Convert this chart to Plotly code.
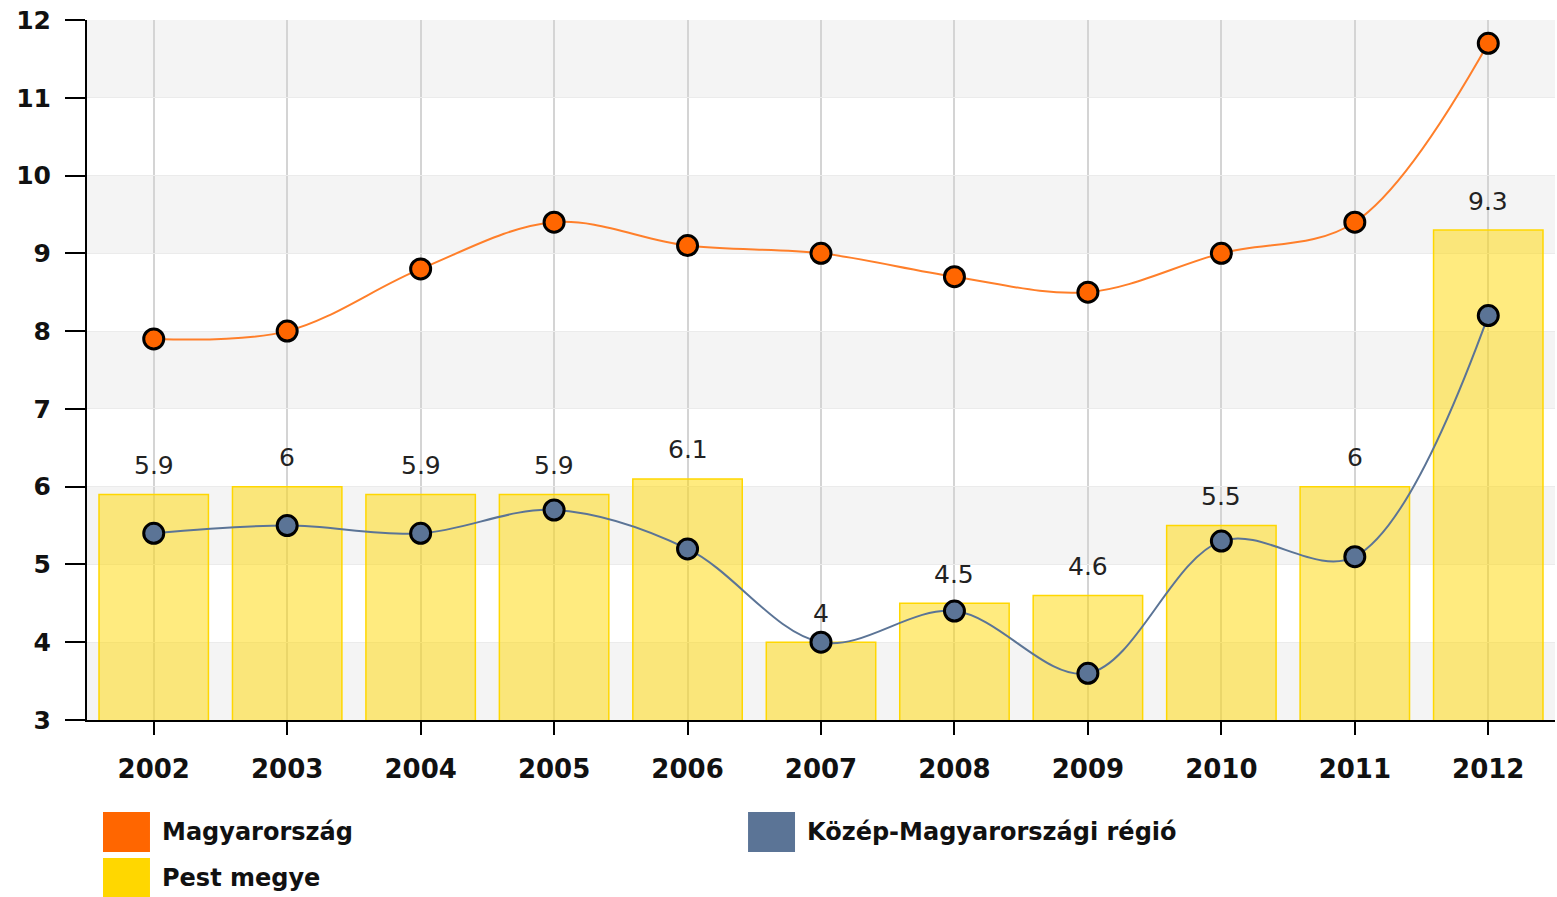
import plotly.graph_objects as go

years = ["2002", "2003", "2004", "2005", "2006", "2007", "2008", "2009", "2010", "2011", "2012"]
magyarorszag = [7.9, 8.0, 8.8, 9.4, 9.1, 9.0, 8.7, 8.5, 9.0, 9.4, 11.7]
kozep = [5.4, 5.5, 5.4, 5.7, 5.2, 4.0, 4.4, 3.6, 5.3, 5.1, 8.2]
pest = [5.9, 6, 5.9, 5.9, 6.1, 4, 4.5, 4.6, 5.5, 6, 9.3]
y_ticks = [3, 4, 5, 6, 7, 8, 9, 10, 11, 12]

FONT = "DejaVu Sans"
ORANGE = "#FF6600"
BLUE = "#5B7496"
YELLOW = "#FFD700"

fig = go.Figure()

fig.add_trace(go.Bar(
    x=years, y=pest, base=0,
    marker=dict(color="rgba(255,215,0,0.5)", line=dict(color=YELLOW, width=1.5)),
    showlegend=False, hoverinfo="skip",
))
fig.add_trace(go.Scatter(
    x=years, y=magyarorszag, mode="lines+markers",
    line=dict(color="#FF7F2A", width=2, shape="spline"),
    marker=dict(size=20, color=ORANGE, line=dict(color="black", width=3)),
    showlegend=False,
))
fig.add_trace(go.Scatter(
    x=years, y=kozep, mode="lines+markers",
    line=dict(color=BLUE, width=2, shape="spline"),
    marker=dict(size=20, color=BLUE, line=dict(color="black", width=3)),
    showlegend=False,
))

# alternating bands
shapes = []
for lo in y_ticks[:-1]:
    if (lo - 3) % 2 == 0:
        shapes.append(dict(type="rect", xref="paper", yref="y", x0=0, x1=1, y0=lo, y1=lo + 1,
                           fillcolor="#F4F4F4", line=dict(width=0), layer="below"))

# custom legend
legend_items = [
    ("Magyarország", ORANGE, 0.0109, -0.1314, -0.1600),
    ("Közép-Magyarországi régió", BLUE, 0.4503, -0.1314, -0.1600),
    ("Pest megye", YELLOW, 0.0109, -0.1971, -0.2257),
]
annotations = []
for name, col, lx, ly, ty in legend_items:
    shapes.append(dict(type="rect", xref="paper", yref="paper", x0=lx, x1=lx + 0.032,
                       y0=ly - 0.0572, y1=ly, fillcolor=col, line=dict(width=0)))
    annotations.append(dict(xref="paper", yref="paper", x=lx + 0.0385, y=ty,
                            text=name, showarrow=False, xanchor="left", yanchor="middle",
                            font=dict(family=FONT, size=24, color="#111111", weight="bold")))

for i, v in enumerate(pest):
    annotations.append(dict(x=i, y=v, xref="x", yref="y", text=f"{v:g}", showarrow=False, yshift=29,
                            xanchor="center", yanchor="middle",
                            font=dict(family=FONT, size=25, color="#222222")))

fig.update_layout(
    width=1557, height=897,
    margin=dict(l=87, r=2, t=20, b=177),
    paper_bgcolor="white", plot_bgcolor="white",
    shapes=shapes, annotations=annotations,
    bargap=0.18,
    xaxis=dict(type="category", range=[-0.5, 10.5], showgrid=True, gridcolor="#D4D4D4", gridwidth=1.5,
               showline=True, linecolor="black", linewidth=2, automargin=False,
               ticks="outside", ticklen=13, tickcolor="black", tickwidth=1.5,
               ticklabelstandoff=12, ticklabeloverflow="allow",
               tickfont=dict(family=FONT, size=26, color="#111111", weight="bold")),
    yaxis=dict(range=[3, 12], tickvals=y_ticks, showgrid=True, gridcolor="#EBEBEB", gridwidth=1,
               showline=True, linecolor="black", linewidth=2, zeroline=False, automargin=False,
               ticks="outside", ticklen=20, tickcolor="black", tickwidth=1.5,
               ticklabelstandoff=9, ticklabeloverflow="allow",
               tickfont=dict(family=FONT, size=25, color="#111111", weight="bold")),
)

# remove the browser's default 8px body margin so the figure fills the window exactly
fig.write_html("out.html", config={"displayModeBar": False},
               post_script="document.body.style.margin='0';document.body.style.overflow='hidden';")
